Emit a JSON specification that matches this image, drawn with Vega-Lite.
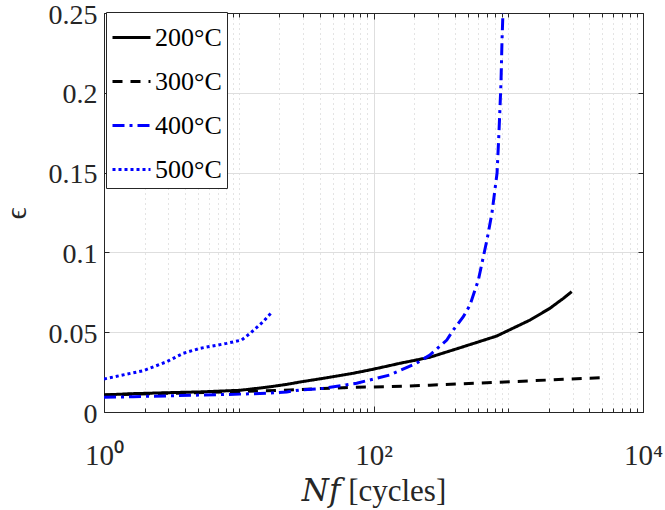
{
  "$schema": "https://vega.github.io/schema/vega-lite/v6.json",
  "autosize": {"type": "none"},
  "padding": {"left": 104, "top": 13, "right": 22, "bottom": 98},
  "width": 539,
  "height": 399,
  "background": "white",
  "config": {
    "view": {"stroke": "#262626", "strokeWidth": 1},
    "font": "Liberation Serif"
  },
  "data": {
    "values": [
      {"T": "200°C", "N": 1, "e": 0.0107},
      {"T": "200°C", "N": 1.64, "e": 0.0115},
      {"T": "200°C", "N": 3, "e": 0.0121},
      {"T": "200°C", "N": 5.2, "e": 0.0126},
      {"T": "200°C", "N": 10.2, "e": 0.0136},
      {"T": "200°C", "N": 16.1, "e": 0.0155},
      {"T": "200°C", "N": 22.7, "e": 0.0173},
      {"T": "200°C", "N": 28.5, "e": 0.0188},
      {"T": "200°C", "N": 42.4, "e": 0.0211},
      {"T": "200°C", "N": 70, "e": 0.0242},
      {"T": "200°C", "N": 99.6, "e": 0.0268},
      {"T": "200°C", "N": 157, "e": 0.0305},
      {"T": "200°C", "N": 262, "e": 0.0343},
      {"T": "200°C", "N": 464, "e": 0.0409},
      {"T": "200°C", "N": 821, "e": 0.0476},
      {"T": "200°C", "N": 1450, "e": 0.0576},
      {"T": "200°C", "N": 2040, "e": 0.065},
      {"T": "200°C", "N": 2565, "e": 0.0712},
      {"T": "200°C", "N": 2955, "e": 0.0754},
      {"T": "300°C", "N": 1, "e": 0.0106},
      {"T": "300°C", "N": 3, "e": 0.0117},
      {"T": "300°C", "N": 10, "e": 0.0128},
      {"T": "300°C", "N": 24, "e": 0.0138},
      {"T": "300°C", "N": 42, "e": 0.0148},
      {"T": "300°C", "N": 75, "e": 0.0155},
      {"T": "300°C", "N": 132, "e": 0.0159},
      {"T": "300°C", "N": 262, "e": 0.0168},
      {"T": "300°C", "N": 617, "e": 0.0182},
      {"T": "300°C", "N": 1450, "e": 0.0195},
      {"T": "300°C", "N": 2565, "e": 0.0205},
      {"T": "300°C", "N": 4800, "e": 0.0215},
      {"T": "400°C", "N": 1, "e": 0.0092},
      {"T": "400°C", "N": 1.64, "e": 0.0096},
      {"T": "400°C", "N": 5.2, "e": 0.0106},
      {"T": "400°C", "N": 10.2, "e": 0.0112},
      {"T": "400°C", "N": 16.1, "e": 0.0117},
      {"T": "400°C", "N": 22.7, "e": 0.0126},
      {"T": "400°C", "N": 28.5, "e": 0.0138},
      {"T": "400°C", "N": 42.4, "e": 0.0148},
      {"T": "400°C", "N": 75, "e": 0.018},
      {"T": "400°C", "N": 132, "e": 0.0232},
      {"T": "400°C", "N": 208, "e": 0.0305},
      {"T": "400°C", "N": 262, "e": 0.0357},
      {"T": "400°C", "N": 350, "e": 0.0451},
      {"T": "400°C", "N": 391, "e": 0.0514},
      {"T": "400°C", "N": 464, "e": 0.0597},
      {"T": "400°C", "N": 520, "e": 0.067},
      {"T": "400°C", "N": 600, "e": 0.0827},
      {"T": "400°C", "N": 695, "e": 0.1078},
      {"T": "400°C", "N": 757, "e": 0.1247},
      {"T": "400°C", "N": 826, "e": 0.1497},
      {"T": "400°C", "N": 853, "e": 0.1748},
      {"T": "400°C", "N": 883, "e": 0.206},
      {"T": "400°C", "N": 899, "e": 0.233},
      {"T": "400°C", "N": 915, "e": 0.252},
      {"T": "500°C", "N": 1, "e": 0.0207},
      {"T": "500°C", "N": 1.96, "e": 0.0259},
      {"T": "500°C", "N": 2.92, "e": 0.0315},
      {"T": "500°C", "N": 3.88, "e": 0.0368},
      {"T": "500°C", "N": 5.16, "e": 0.0399},
      {"T": "500°C", "N": 8.14, "e": 0.043},
      {"T": "500°C", "N": 10.5, "e": 0.0451},
      {"T": "500°C", "N": 12.1, "e": 0.0492},
      {"T": "500°C", "N": 15.1, "e": 0.0564},
      {"T": "500°C", "N": 17.7, "e": 0.0627}
    ]
  },
  "layer": [
    {
      "mark": {"type": "line", "strokeWidth": 3, "clip": true, "strokeCap": "butt"},
      "encoding": {
        "x": {
          "field": "N", "type": "quantitative",
          "scale": {"type": "log", "domain": [1, 10000], "nice": false},
          "axis": {
            "orient": "bottom",
            "values": [1,2,3,4,5,6,7,8,9,10,20,30,40,50,60,70,80,90,100,200,300,400,500,600,700,800,900,1000,2000,3000,4000,5000,6000,7000,8000,9000,10000],
            "labelExpr": "datum.value == 1 ? '10⁰' : datum.value == 100 ? '10²' : datum.value == 10000 ? '10⁴' : ''",
            "labelFont": "Liberation Serif, Times New Roman, serif", "labelFontSize": 29, "labelColor": "#262626",
            "labelPadding": 35, "labelFlush": false, "labelOverlap": false,
            "tickSize": {"condition": {"test": "datum.value == 1 || datum.value == 100 || datum.value == 10000", "value": -6}, "value": -4},
            "tickColor": "#262626", "domainColor": "#262626",
            "grid": true,
            "gridDash": {"condition": {"test": "datum.value == 1 || datum.value == 100 || datum.value == 10000", "value": []}, "value": [1, 4]},
            "gridColor": {"condition": {"test": "datum.value == 1 || datum.value == 100 || datum.value == 10000", "value": "#dedede"}, "value": "#c8c8c8"},
            "title": "𝑁𝑓  [cycles]",
            "titleFont": "Liberation Serif, DejaVu Serif, serif", "titleFontSize": 31, "titleFontWeight": "normal", "titleColor": "#262626",
            "titleBaseline": "alphabetic", "titleY": 88
          }
        },
        "y": {
          "field": "e", "type": "quantitative",
          "scale": {"domain": [0, 0.25], "nice": false},
          "axis": {
            "orient": "left",
            "values": [0, 0.05, 0.1, 0.15, 0.2, 0.25],
            "format": "~g",
            "labelFont": "Liberation Serif, Times New Roman, serif", "labelFontSize": 28, "labelColor": "#262626",
            "labelPadding": 12, "labelOffset": 2, "labelFlush": false,
            "tickSize": -5, "tickColor": "#262626", "domainColor": "#262626",
            "grid": true, "gridColor": "#dedede",
            "title": "ϵ",
            "titleFont": "Liberation Serif, DejaVu Serif, serif", "titleFontSize": 30, "titleFontWeight": "normal", "titleColor": "#262626",
            "titleAngle": -90, "titleX": -88, "titleY": 200, "titleBaseline": "middle", "titleAlign": "center"
          }
        },
        "color": {
          "field": "T", "type": "nominal",
          "scale": {"domain": ["200°C", "300°C", "400°C", "500°C"], "range": ["#000000", "#000000", "#0000ff", "#0000ff"]},
          "legend": {
            "title": null, "orient": "none", "legendX": 2, "legendY": -1,
            "fillColor": "white", "strokeColor": "#262626", "padding": 5,
            "symbolType": "stroke", "symbolSize": 1444, "symbolStrokeWidth": 3,
            "labelFont": "Liberation Serif", "labelFontSize": 26, "labelColor": "#000000", "labelOffset": 3,
            "rowPadding": 10
          }
        },
        "strokeDash": {
          "field": "T", "type": "nominal",
          "scale": {"domain": ["200°C", "300°C", "400°C", "500°C"], "range": [[1, 0], [10, 8], [12, 5, 3, 5], [3, 3]]},
          "legend": {
            "title": null, "orient": "none", "legendX": 2, "legendY": -1,
            "fillColor": "white", "strokeColor": "#262626", "padding": 5,
            "symbolType": "stroke", "symbolSize": 1444, "symbolStrokeWidth": 3,
            "labelFont": "Liberation Serif", "labelFontSize": 26, "labelColor": "#000000", "labelOffset": 3,
            "rowPadding": 10
          }
        }
      }
    },
    {
      "mark": {"type": "point", "opacity": 0},
      "encoding": {
        "x": {
          "field": "N", "type": "quantitative",
          "scale": {"type": "log", "domain": [1, 10000], "nice": false},
          "axis": {
            "orient": "top", "title": null, "labels": false, "grid": false,
            "values": [1,2,3,4,5,6,7,8,9,10,20,30,40,50,60,70,80,90,100,200,300,400,500,600,700,800,900,1000,2000,3000,4000,5000,6000,7000,8000,9000,10000],
            "tickSize": {"condition": {"test": "datum.value == 1 || datum.value == 100 || datum.value == 10000", "value": -6}, "value": -4},
            "tickColor": "#262626", "domainColor": "#262626"
          }
        },
        "y": {
          "field": "e", "type": "quantitative",
          "scale": {"domain": [0, 0.25], "nice": false},
          "axis": {
            "orient": "right", "title": null, "labels": false, "grid": false,
            "values": [0, 0.05, 0.1, 0.15, 0.2, 0.25],
            "tickSize": -5, "tickColor": "#262626", "domainColor": "#262626"
          }
        }
      }
    }
  ],
  "resolve": {"axis": {"x": "independent", "y": "independent"}}
}
